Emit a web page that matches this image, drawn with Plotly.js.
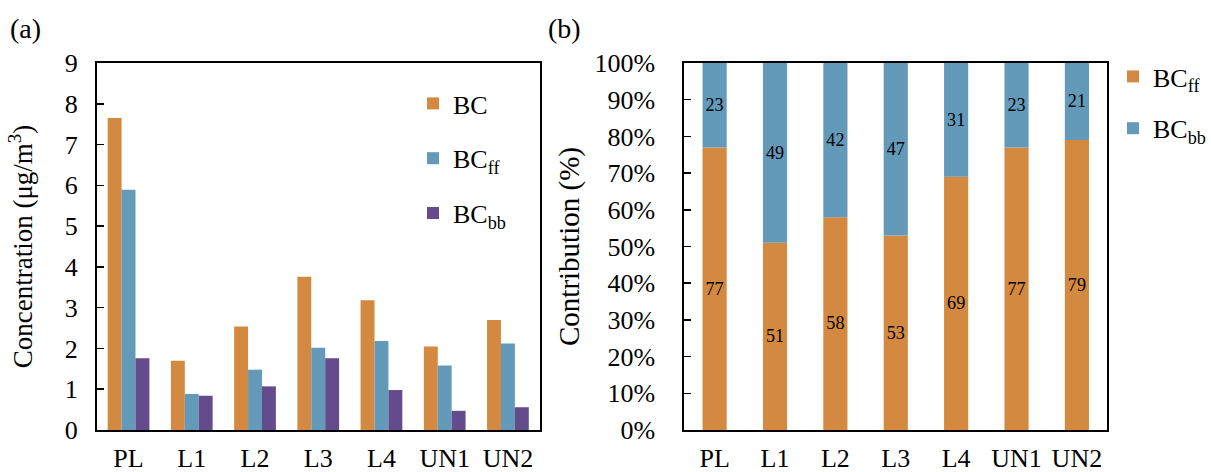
<!DOCTYPE html>
<html>
<head>
<meta charset="utf-8">
<script src="https://cdn.plot.ly/plotly-3.0.1.min.js"></script>
<style>html,body{margin:0;padding:0;background:#fff;}#chart{width:1211px;height:472px;}</style>
</head>
<body>
<div id="chart"></div>
<script>
const sites = ["PL", "L1", "L2", "L3", "L4", "UN1", "UN2"];
const bcTotal = [7.65, 1.70, 2.54, 3.76, 3.18, 2.05, 2.70];
const bcFF = [5.89, 0.88, 1.48, 2.02, 2.18, 1.58, 2.12];
const bcBB = [1.76, 0.84, 1.07, 1.76, 0.98, 0.47, 0.56];
const pctFF = [77, 51, 58, 53, 69, 77, 79];
const pctBB = [23, 49, 42, 47, 31, 23, 21];
const yTicksLeft = [0, 1, 2, 3, 4, 5, 6, 7, 8, 9];
const yTicksRight = [0, 10, 20, 30, 40, 50, 60, 70, 80, 90, 100];

const C_OR = "#D3893F", C_BL = "#6399B9", C_PU = "#634B8C";
const FONT = "Liberation Serif";
const f = (size) => ({family: FONT, size: size, color: "#000"});

const traces = [
  {type: "bar", x: sites, y: bcTotal, name: "BC", marker: {color: C_OR}, xaxis: "x", yaxis: "y", legend: "legend", legendgroup: "a1"},
  {type: "bar", x: sites, y: bcFF, name: "BC<sub>ff</sub>", marker: {color: C_BL}, xaxis: "x", yaxis: "y", legend: "legend", legendgroup: "a2"},
  {type: "bar", x: sites, y: bcBB, name: "BC<sub>bb</sub>", marker: {color: C_PU}, xaxis: "x", yaxis: "y", legend: "legend", legendgroup: "a3"},
  {type: "bar", x: sites, y: pctFF, name: "BC<sub>ff</sub>", marker: {color: C_OR}, xaxis: "x2", yaxis: "y2", legend: "legend2", legendgroup: "b1",
   offsetgroup: "s", width: 0.4,
   text: pctFF.map(String), textposition: "inside", insidetextanchor: "middle", textfont: f(23)},
  {type: "bar", x: sites, y: pctBB, base: pctFF, name: "BC<sub>bb</sub>", marker: {color: C_BL}, xaxis: "x2", yaxis: "y2", legend: "legend2", legendgroup: "b2",
   offsetgroup: "s", width: 0.4,
   text: pctBB.map(String), textposition: "inside", insidetextanchor: "middle", textfont: f(23)}
];

const axisCommon = {showline: true, linecolor: "#000", linewidth: 2, mirror: true, showgrid: false, zeroline: false};

const layout = {
  width: 1211, height: 472,
  margin: {l: 0, r: 0, t: 63, b: 42},
  paper_bgcolor: "#fff", plot_bgcolor: "#fff",
  font: f(26),
  barmode: "group",
  bargap: 0.34, bargroupgap: 0,
  showlegend: true,
  xaxis: Object.assign({}, axisCommon, {domain: [97/1211, 540/1211], anchor: "y", ticks: "", ticklabelstandoff: 4, tickfont: f(26)}),
  yaxis: Object.assign({}, axisCommon, {domain: [0, 1], anchor: "x", range: [0, 9], tickvals: yTicksLeft, ticktext: yTicksLeft.map(String),
    ticks: "inside", ticklen: 7, tickwidth: 1.5, tickcolor: "#000", ticklabelstandoff: 12, tickfont: f(26),
    title: {text: "Concentration (μg/m<sup>3</sup>)", font: f(27), standoff: 24}}),
  xaxis2: Object.assign({}, axisCommon, {domain: [685/1211, 1108/1211], anchor: "y2", ticks: "", ticklabelstandoff: 4, tickfont: f(26)}),
  yaxis2: Object.assign({}, axisCommon, {domain: [0, 1], anchor: "x2", range: [0, 100], tickvals: yTicksRight, ticktext: yTicksRight.map(v => v + "%"),
    ticks: "inside", ticklen: 7, tickwidth: 1.5, tickcolor: "#000", ticklabelstandoff: 22, tickfont: f(26),
    title: {text: "Contribution (%)", font: f(29), standoff: 6}}),
  legend: {x: 413/1211, y: 1 - 17/367, xanchor: "left", yanchor: "top", xref: "paper", yref: "paper",
    bgcolor: "rgba(0,0,0,0)", font: f(26), traceorder: "grouped", tracegroupgap: 18, itemwidth: 30},
  legend2: {x: 1114/1211, y: 1 + 10/367, xanchor: "left", yanchor: "top", xref: "paper", yref: "paper",
    bgcolor: "rgba(0,0,0,0)", font: f(26), traceorder: "grouped", tracegroupgap: 15, itemwidth: 30},
  annotations: [
    {text: "(a)", xref: "paper", yref: "paper", x: 8/1211, y: 1 + 35/367, xanchor: "left", yanchor: "middle", showarrow: false, font: f(28)},
    {text: "(b)", xref: "paper", yref: "paper", x: 546/1211, y: 1 + 35/367, xanchor: "left", yanchor: "middle", showarrow: false, font: f(28)}
  ]
};

Plotly.newPlot("chart", traces, layout, {displayModeBar: false, staticPlot: true});
</script>
</body>
</html>
